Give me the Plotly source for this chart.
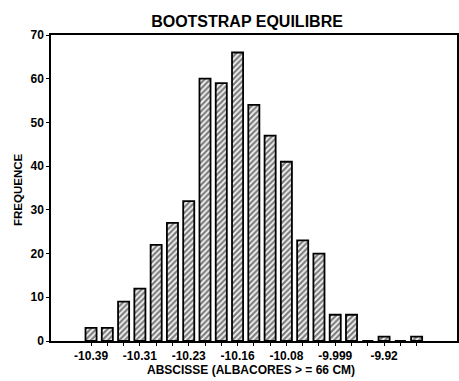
import plotly.graph_objects as go

# Histogram bins (index of bin along abscissa) and frequencies
bins = list(range(21))
counts = [3, 3, 9, 12, 22, 27, 32, 60, 59, 66, 54, 47, 41, 23, 20, 6, 6, 0, 1, 0, 1]
# tick labels shown every third bin
tick_labels = ["-10.39", "-10.31", "-10.23", "-10.16", "-10.08", "-9.999", "-9.92"]
tick_every = 3

ticktext = []
for i in bins:
    if i % tick_every == 0 and i // tick_every < len(tick_labels):
        ticktext.append(tick_labels[i // tick_every])
    else:
        ticktext.append("")

FONT = "Liberation Sans"
W, H = 459, 381

fig = go.Figure()
fig.add_trace(go.Bar(
    x=bins,
    y=counts,
    marker=dict(
        color="white",
        line=dict(color="black", width=1.8),
        pattern=dict(shape="/", fgcolor="black", bgcolor="white", size=4, solidity=0.6),
    ),
    showlegend=False,
))

fig.update_layout(
    width=W,
    height=H,
    margin=dict(l=51, r=2, t=35, b=40, autoexpand=False),
    paper_bgcolor="white",
    plot_bgcolor="white",
    bargap=0.32,
    font=dict(family=FONT, color="black"),
    title=dict(
        text="<b>BOOTSTRAP EQUILIBRE</b>",
        font=dict(family=FONT, size=16, color="black"),
        x=247 / W, xref="container", xanchor="center",
        y=1 - 21 / H, yref="container", yanchor="middle",
    ),
    annotations=[
        dict(text="<b>ABSCISSE (ALBACORES > = 66 CM)</b>", xref="paper", yref="paper",
             x=(251 - 51) / (W - 53), y=-(370 - 341) / (341 - 35),
             xanchor="center", yanchor="middle", showarrow=False,
             font=dict(family=FONT, size=12, color="black")),
        dict(text="<b>FREQUENCE</b>", xref="paper", yref="paper",
             x=-(51 - 18) / (W - 53), y=(341 - 190) / (341 - 35),
             xanchor="center", yanchor="middle", showarrow=False, textangle=-90,
             font=dict(family=FONT, size=11.5, color="black")),
    ],
)

fig.update_xaxes(
    range=[-2.46, 22.48],
    automargin=False,
    tickmode="array",
    tickvals=bins,
    ticktext=ticktext,
    ticks="outside",
    ticklen=3,
    tickwidth=1,
    tickcolor="black",
    tickfont=dict(family=FONT, size=12, color="black", weight="bold"),
    showline=True,
    linecolor="black",
    linewidth=1.5,
    mirror=True,
    showgrid=False,
    zeroline=False,
)

fig.update_yaxes(
    range=[0, 70],
    automargin=False,
    tickmode="array",
    tickvals=[0, 10, 20, 30, 40, 50, 60, 70],
    ticks="outside",
    ticklen=3,
    tickwidth=1,
    tickcolor="black",
    tickfont=dict(family=FONT, size=12, color="black", weight="bold"),
    showline=True,
    linecolor="black",
    linewidth=1.5,
    mirror=True,
    showgrid=False,
    zeroline=False,
)

fig.write_html("out.html",
               config={"displayModeBar": False},
               post_script="document.body.style.margin='0';document.body.style.overflow='hidden';")
